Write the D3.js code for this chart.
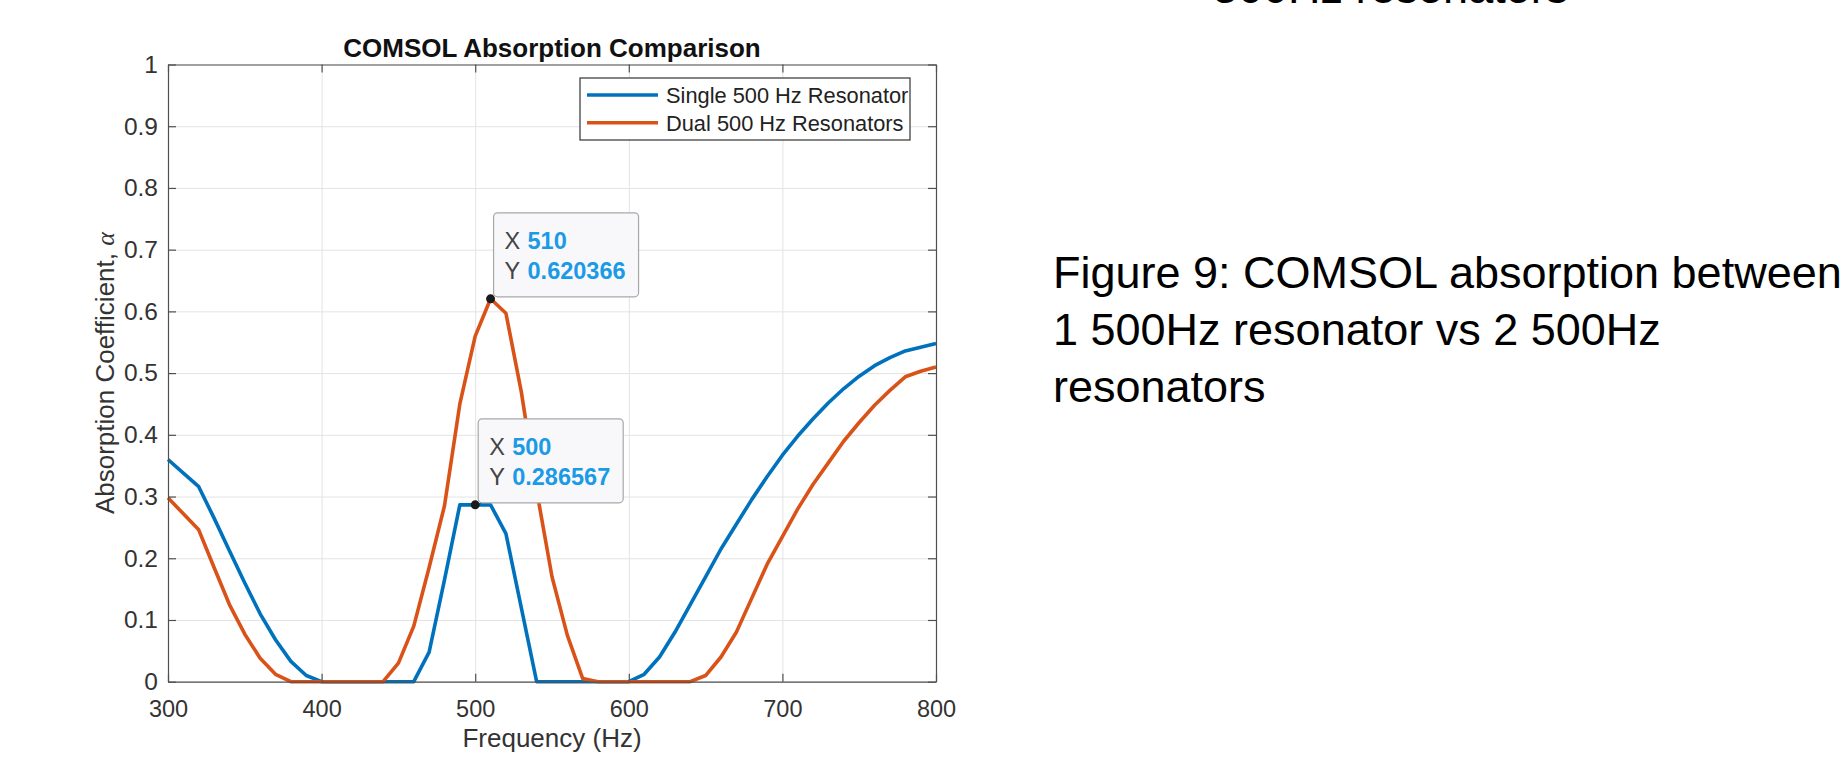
<!DOCTYPE html>
<html>
<head>
<meta charset="utf-8">
<script src="https://cdn.jsdelivr.net/npm/d3@7"></script>
<style>
  html, body { margin: 0; padding: 0; background: #ffffff; }
  svg { display: block; }
</style>
</head>
<body>
<svg id="chart" width="1845" height="761"></svg>
<script>
// ---------------- data ----------------
const freqs = [300, 310, 320, 330, 340, 350, 360, 370, 380, 390,
               400, 410, 420, 430, 440, 450, 460, 470, 480, 490,
               500, 510, 520, 530, 540, 550, 560, 570, 580, 590,
               600, 610, 620, 630, 640, 650, 660, 670, 680, 690,
               700, 710, 720, 730, 740, 750, 760, 770, 780, 790, 800];

const singleValues = [0.360, 0.338, 0.316, 0.265, 0.212, 0.160, 0.110, 0.068, 0.033, 0.010,
                      0.000, 0.000, 0.000, 0.000, 0.000, 0.000, 0.000, 0.048, 0.165, 0.2866,
                      0.286567, 0.2866, 0.240, 0.120, 0.000, 0.000, 0.000, 0.000, 0.000, 0.000,
                      0.000, 0.012, 0.040, 0.080, 0.125, 0.170, 0.215, 0.255, 0.295, 0.332,
                      0.367, 0.398, 0.426, 0.452, 0.475, 0.495, 0.512, 0.525, 0.536, 0.542, 0.548];

const dualValues = [0.298, 0.272, 0.246, 0.185, 0.125, 0.077, 0.038, 0.012, 0.000, 0.000,
                    0.000, 0.000, 0.000, 0.000, 0.000, 0.030, 0.090, 0.185, 0.285, 0.450,
                    0.560, 0.620366, 0.597, 0.470, 0.310, 0.170, 0.075, 0.005, 0.000, 0.000,
                    0.000, 0.000, 0.000, 0.000, 0.000, 0.010, 0.040, 0.080, 0.135, 0.190,
                    0.235, 0.280, 0.320, 0.355, 0.390, 0.420, 0.448, 0.472, 0.494, 0.503, 0.510];

const seriesNames = ["Single 500 Hz Resonator", "Dual 500 Hz Resonators"];
const xTicks = [300, 400, 500, 600, 700, 800];
const yTicks = [0, 0.1, 0.2, 0.3, 0.4, 0.5, 0.6, 0.7, 0.8, 0.9, 1];
const yTickLabels = ["0", "0.1", "0.2", "0.3", "0.4", "0.5", "0.6", "0.7", "0.8", "0.9", "1"];
const dataTips = [
  { series: 1, x: 510, y: 0.620366, xLabel: "510", yLabel: "0.620366" },
  { series: 0, x: 500, y: 0.286567, xLabel: "500", yLabel: "0.286567" }
];
const chartTitle = "COMSOL Absorption Comparison";
const xAxisTitle = "Frequency (Hz)";
const captionPrev = "500Hz resonators";
const captionLines = ["Figure 9: COMSOL absorption between", "1 500Hz resonator vs 2 500Hz", "resonators"];

// ---------------- layout ----------------
const colors = ["#0072BD", "#D95319"];
const plot = { left: 168, right: 936, top: 64.5, bottom: 681.7 };
const font = "'Liberation Sans', Arial, Helvetica, sans-serif";

const svg = d3.select("#chart");

const x = d3.scaleLinear().domain([300, 800]).range([plot.left, plot.right]);
const y = d3.scaleLinear().domain([0, 1]).range([plot.bottom, plot.top]);
const W = plot.right - plot.left, H = plot.bottom - plot.top;

// grid
svg.append("g")
  .attr("transform", `translate(0,${plot.bottom})`)
  .call(d3.axisBottom(x).tickValues(xTicks).tickSize(-H).tickFormat(""))
  .call(g => g.select(".domain").remove())
  .call(g => g.selectAll("line").attr("stroke", "#e3e3e3").attr("stroke-width", 1));
svg.append("g")
  .attr("transform", `translate(${plot.left},0)`)
  .call(d3.axisLeft(y).tickValues(yTicks).tickSize(-W).tickFormat(""))
  .call(g => g.select(".domain").remove())
  .call(g => g.selectAll("line").attr("stroke", "#e3e3e3").attr("stroke-width", 1));

// lines
const line = d3.line().x((d, i) => x(freqs[i])).y(d => y(d));
[singleValues, dualValues].forEach((vals, k) => {
  svg.append("path")
    .datum(vals)
    .attr("fill", "none")
    .attr("stroke", colors[k])
    .attr("stroke-width", 3.6)
    .attr("stroke-linejoin", "round")
    .attr("d", line);
});

// axes (box with inward ticks on all sides)
const axisColor = "#505050";
function styleAxis(g, size) {
  g.select(".domain").attr("stroke", axisColor).attr("stroke-width", 1.2);
  g.selectAll(".tick line").attr("stroke", axisColor).attr("stroke-width", 1.2);
  g.selectAll(".tick text")
    .attr("fill", "#333333")
    .style("font-family", font)
    .style("font-size", (size || 23) + "px");
}
svg.append("g")
  .attr("transform", `translate(0,${plot.bottom})`)
  .call(d3.axisBottom(x).tickValues(xTicks).tickSizeInner(-8).tickSizeOuter(0).tickPadding(10).tickFormat(d3.format("d")))
  .call(g => styleAxis(g, 23.5))
  .call(g => g.selectAll(".tick text").attr("dy", "0.72em").attr("y", 18.5));
svg.append("g")
  .attr("transform", `translate(0,${plot.top})`)
  .call(d3.axisTop(x).tickValues(xTicks).tickSizeInner(-8).tickSizeOuter(0).tickFormat(""))
  .call(g => styleAxis(g));
svg.append("g")
  .attr("transform", `translate(${plot.left},0)`)
  .call(d3.axisLeft(y).tickValues(yTicks).tickSizeInner(-8).tickSizeOuter(0).tickPadding(10)
        .tickFormat((d, i) => yTickLabels[i]))
  .call(g => styleAxis(g, 24.5));
svg.append("g")
  .attr("transform", `translate(${plot.right},0)`)
  .call(d3.axisRight(y).tickValues(yTicks).tickSizeInner(-8).tickSizeOuter(0).tickFormat(""))
  .call(g => styleAxis(g));

// titles
svg.append("text")
  .attr("x", (plot.left + plot.right) / 2).attr("y", 57)
  .attr("text-anchor", "middle")
  .style("font-family", font).style("font-size", "26px").style("font-weight", "bold")
  .attr("fill", "#111")
  .text(chartTitle);
svg.append("text")
  .attr("x", (plot.left + plot.right) / 2).attr("y", 747)
  .attr("text-anchor", "middle")
  .style("font-family", font).style("font-size", "26px")
  .attr("fill", "#333")
  .text(xAxisTitle);
const yl = svg.append("text")
  .attr("transform", `translate(114,${(plot.top + plot.bottom) / 2}) rotate(-90)`)
  .attr("text-anchor", "middle")
  .style("font-family", font).style("font-size", "26px")
  .attr("fill", "#333");
yl.append("tspan").text("Absorption Coefficient, ");
yl.append("tspan").style("font-family", "'Liberation Serif', 'DejaVu Serif', serif").style("font-style", "italic").text("α");

// legend
const lg = svg.append("g");
lg.append("rect").attr("x", 580).attr("y", 78).attr("width", 330).attr("height", 62)
  .attr("fill", "#fff").attr("stroke", "#333").attr("stroke-width", 1.2);
seriesNames.forEach((name, k) => {
  const ly = 95 + k * 27.7;
  lg.append("line").attr("x1", 587).attr("x2", 658).attr("y1", ly).attr("y2", ly)
    .attr("stroke", colors[k]).attr("stroke-width", 3.6);
  lg.append("text").attr("x", 666).attr("y", ly + 8)
    .style("font-family", font).style("font-size", "21.8px").attr("fill", "#222")
    .text(name);
});

// data tips
dataTips.forEach(t => {
  const px = x(t.x), py = y(t.y);
  const bx = px + 3, by = py - 2 - 84;
  const g = svg.append("g");
  g.append("rect").attr("x", bx).attr("y", by).attr("width", 145).attr("height", 84)
    .attr("rx", 4).attr("fill", "#f8f8fb").attr("stroke", "#a8a8a8").attr("stroke-width", 1.2);
  [["X", t.xLabel], ["Y", t.yLabel]].forEach((row, r) => {
    const ty = by + 36 + r * 30;
    g.append("text").attr("x", bx + 11).attr("y", ty)
      .style("font-family", font).style("font-size", "23.5px").attr("fill", "#444")
      .text(row[0]);
    g.append("text").attr("x", bx + 34).attr("y", ty)
      .style("font-family", font).style("font-size", "23.5px").style("font-weight", "bold")
      .attr("fill", "#1b9ae6")
      .text(row[1]);
  });
  svg.append("circle").attr("cx", px).attr("cy", py).attr("r", 4.5).attr("fill", "#1a1a1a");
});

// caption text on the right
svg.append("text").attr("x", 1213).attr("y", 3)
  .style("font-family", font).style("font-size", "45px").attr("fill", "#000")
  .text(captionPrev);
captionLines.forEach((t, i) => {
  svg.append("text").attr("x", 1053).attr("y", 288 + i * 57)
    .style("font-family", font).style("font-size", "45px").attr("fill", "#000")
    .text(t);
});
</script>
</body>
</html>
